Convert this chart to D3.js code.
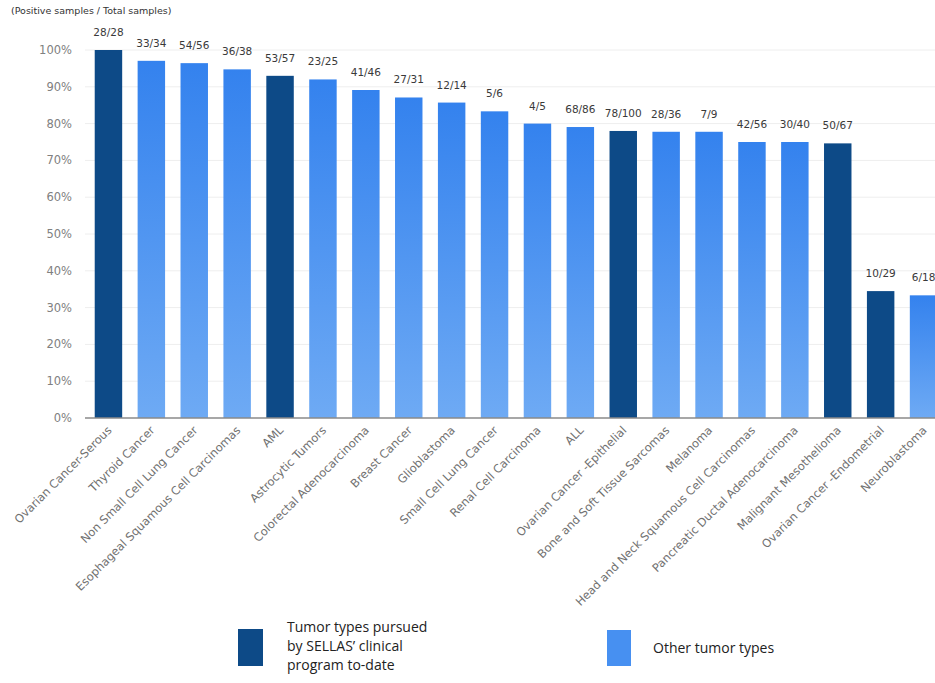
<!DOCTYPE html>
<html>
<head>
<meta charset="utf-8">
<script src="https://cdn.jsdelivr.net/npm/d3@7"></script>
<style>
  body { margin: 0; background: #fff; }
  svg { display: block; font-family: "DejaVu Sans", Verdana, sans-serif; }
</style>
</head>
<body>
<svg width="935" height="683"></svg>
<script>
// tumor types, in chart order
var categories = [
  "Ovarian Cancer-Serous", "Thyroid Cancer", "Non Small Cell Lung Cancer",
  "Esophageal Squamous Cell Carcinomas", "AML", "Astrocytic Tumors",
  "Colorectal Adenocarcinoma", "Breast Cancer", "Glioblastoma",
  "Small Cell Lung Cancer", "Renal Cell Carcinoma", "ALL",
  "Ovarian Cancer -Epithelial", "Bone and Soft Tissue Sarcomas", "Melanoma",
  "Head and Neck Squamous Cell Carcinomas", "Pancreatic Ductal Adenocarcinoma",
  "Malignant Mesothelioma", "Ovarian Cancer -Endometrial", "Neuroblastoma"
];
var positives = [28, 33, 54, 36, 53, 23, 41, 27, 12, 5, 4, 68, 78, 28, 7, 42, 30, 50, 10, 6];
var totals    = [28, 34, 56, 38, 57, 25, 46, 31, 14, 6, 5, 86, 100, 36, 9, 56, 40, 67, 29, 18];
// pursued by SELLAS' clinical program
var pursued = [true, false, false, false, true, false, false, false, false, false,
               false, false, true, false, false, false, false, true, true, false];
var yTicks = [0, 0.1, 0.2, 0.3, 0.4, 0.5, 0.6, 0.7, 0.8, 0.9, 1.0];

var data = categories.map(function(c, i) {
  return { name: c, pos: positives[i], tot: totals[i], value: positives[i] / totals[i], dark: pursued[i] };
});

var svg = d3.select("svg");

var darkBlue = "#0d4a87";

// gradient for the other bars
var defs = svg.append("defs");
var grad = defs.append("linearGradient")
  .attr("id", "lightGrad")
  .attr("x1", 0).attr("y1", 0).attr("x2", 0).attr("y2", 1);
grad.append("stop").attr("offset", "0%").attr("stop-color", "#3482ee");
grad.append("stop").attr("offset", "100%").attr("stop-color", "#6eaaf4");

var x = d3.scaleBand()
  .domain(categories)
  .range([87, 945])
  .paddingInner(0.36)
  .paddingOuter(0.18);

var y = d3.scaleLinear()
  .domain([0, 1])
  .range([418, 50]);

// gridlines
svg.append("g")
  .selectAll("line")
  .data(yTicks.slice(1))
  .enter().append("line")
  .attr("x1", 85).attr("x2", 935)
  .attr("y1", function(d) { return y(d); })
  .attr("y2", function(d) { return y(d); })
  .style("stroke", "#eeeeee")
  .style("stroke-width", 1);

// y tick labels
svg.append("g")
  .selectAll("text")
  .data(yTicks)
  .enter().append("text")
  .attr("x", 72)
  .attr("y", function(d) { return y(d); })
  .attr("dy", "0.35em")
  .attr("text-anchor", "end")
  .style("font-size", "11.5px")
  .style("fill", "#808080")
  .text(d3.format(".0%"));

// bars
svg.append("g")
  .selectAll("rect")
  .data(data)
  .enter().append("rect")
  .attr("x", function(d) { return x(d.name); })
  .attr("y", function(d) { return y(d.value); })
  .attr("width", x.bandwidth())
  .attr("height", function(d) { return y(0) - y(d.value); })
  .attr("fill", function(d) { return d.dark ? darkBlue : "url(#lightGrad)"; });

// baseline
svg.append("line")
  .attr("x1", 85).attr("x2", 935)
  .attr("y1", y(0)).attr("y2", y(0))
  .style("stroke", "#8a8a8a")
  .style("stroke-width", 1.5);

// value labels
svg.append("g")
  .selectAll("text")
  .data(data)
  .enter().append("text")
  .attr("x", function(d) { return x(d.name) + x.bandwidth() / 2; })
  .attr("y", function(d) { return y(d.value) - 14; })
  .attr("text-anchor", "middle")
  .style("font-size", "10.5px")
  .style("fill", "#3a3a3a")
  .text(function(d) { return d.pos + "/" + d.tot; });

// x labels, rotated
svg.append("g")
  .selectAll("text")
  .data(data)
  .enter().append("text")
  .attr("transform", function(d) {
    return "translate(" + (x(d.name) + x.bandwidth() / 2 + 4) + "," + (y(0) + 13) + ") rotate(-45)";
  })
  .attr("text-anchor", "end")
  .style("font-size", "11.5px")
  .style("fill", "#707070")
  .text(function(d) { return d.name; });

// subtitle
svg.append("text")
  .attr("x", 11).attr("y", 14)
  .style("font-size", "9.5px")
  .style("fill", "#333")
  .text("(Positive samples /  Total samples)");

// legend
var legend = svg.append("g").style("font-family", "'Open Sans', 'Liberation Sans', sans-serif");
legend.append("rect")
  .attr("x", 238).attr("y", 629).attr("width", 25).attr("height", 37)
  .attr("fill", darkBlue);
var lt = legend.append("text")
  .attr("x", 287).attr("y", 632)
  .style("font-size", "14px")
  .style("fill", "#222");
["Tumor types pursued", "by SELLAS\u2019 clinical", "program to-date"].forEach(function(s, i) {
  lt.append("tspan").attr("x", 287).attr("dy", i === 0 ? 0 : 19).text(s);
});
legend.append("rect")
  .attr("x", 607).attr("y", 630).attr("width", 24).attr("height", 36)
  .attr("fill", "#4790f1");
legend.append("text")
  .attr("x", 653).attr("y", 653)
  .style("font-size", "14px")
  .style("fill", "#222")
  .text("Other tumor types");
</script>
</body>
</html>
